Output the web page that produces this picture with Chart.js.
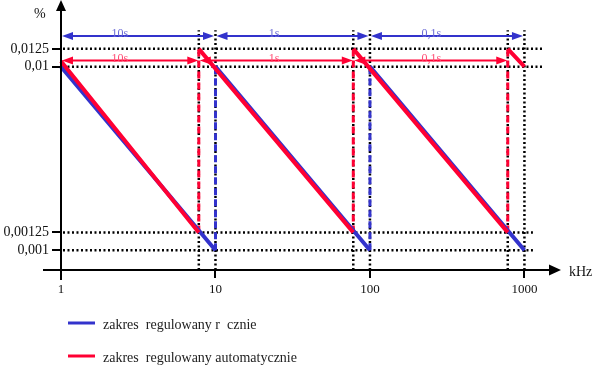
<!DOCTYPE html>
<html>
<head>
<meta charset="utf-8">
<script src="https://cdn.jsdelivr.net/npm/chart.js@4/dist/chart.umd.min.js"></script>
<style>
  body { margin: 0; background: #fff; }
  canvas { display: block; }
</style>
</head>
<body>
<canvas id="myChart" width="593" height="368"></canvas>
<script>
// axis ticks
const xTicks = [1, 10, 100, 1000];
const yTicks = [0.001, 0.00125, 0.01, 0.0125];

// manual range (blue): one line per decade
const manualFrom = [1, 10, 100];
const manualTo = [10, 100, 1000];
const manualTop = 0.01;
const manualBottom = 0.001;

// automatic range (red)
const autoFrom = [1, 7.8, 78, 780];
const autoTo = [7.8, 78, 780, 1000];
const autoFromY = [0.0107, 0.0125, 0.0125, 0.0125];
const autoToY = [0.00125, 0.00125, 0.00125, 0.01];

// vertical jumps
const manualJumpX = [10, 100];
const autoJumpX = [7.8, 78, 780];

// dotted guides
const guideX = [7.8, 10, 78, 100, 780, 1000];
const guideTop = 0.0158;
const levelsLong = [0.0125, 0.01];
const levelsLongEnd = 1320;
const levelsShort = [0.00125, 0.001];
const levelsShortEnd = 1135;

// time arrows
const timeLabels = ["10s", "1s", "0,1s"];
const timeLabelX = [2.4, 24, 250];
const manualArrowY = 0.0147;
const autoArrowY = 0.0108;

const manualLabel = "zakres  regulowany r  cznie";
const autoLabel = "zakres  regulowany automatycznie";

const BLUE = "#3333cc";
const RED = "#ff0033";
const SERIF = '"Liberation Serif", "DejaVu Serif", serif';

//Helper functions
const segments = (x1, y1, x2, y2) => {
  const pts = [];
  x1.forEach((x, i) => {
    if (i > 0) pts.push({ x: x, y: null });
    pts.push({ x: x, y: y1[i] });
    pts.push({ x: x2[i], y: y2[i] });
  });
  return pts;
};
const fill = (arr, v) => arr.map(() => v);

const drawArrow = (ctx, x1, x2, y, color) => {
  const len = 11;
  const half = 4;
  ctx.strokeStyle = color;
  ctx.fillStyle = color;
  ctx.lineWidth = 2;
  ctx.setLineDash([]);
  ctx.beginPath();
  ctx.moveTo(x1 + 4, y);
  ctx.lineTo(x2 - 4, y);
  ctx.stroke();
  ctx.beginPath();
  ctx.moveTo(x1, y);
  ctx.lineTo(x1 + len, y - half);
  ctx.lineTo(x1 + len, y + half);
  ctx.closePath();
  ctx.fill();
  ctx.beginPath();
  ctx.moveTo(x2, y);
  ctx.lineTo(x2 - len, y - half);
  ctx.lineTo(x2 - len, y + half);
  ctx.closePath();
  ctx.fill();
};

const extras = {
  id: "extras",
  afterDraw: (chart) => {
    const ctx = chart.ctx;
    const xs = chart.scales.x;
    const ys = chart.scales.y;
    const area = chart.chartArea;
    ctx.save();

    // axes with arrow heads
    ctx.strokeStyle = "#000";
    ctx.fillStyle = "#000";
    ctx.lineWidth = 2;
    ctx.beginPath();
    ctx.moveTo(area.left, area.bottom + 10);
    ctx.lineTo(area.left, 6);
    ctx.moveTo(area.left - 18, area.bottom);
    ctx.lineTo(area.right + 5, area.bottom);
    ctx.stroke();
    ctx.beginPath();
    ctx.moveTo(area.left, 0);
    ctx.lineTo(area.left - 5, 11);
    ctx.lineTo(area.left + 5, 11);
    ctx.closePath();
    ctx.fill();
    ctx.beginPath();
    ctx.moveTo(area.right + 14, area.bottom);
    ctx.lineTo(area.right + 2, area.bottom - 5.5);
    ctx.lineTo(area.right + 2, area.bottom + 5.5);
    ctx.closePath();
    ctx.fill();

    ctx.font = "14px " + SERIF;
    ctx.fillStyle = "#111";
    ctx.textAlign = "left";
    ctx.textBaseline = "middle";
    ctx.fillText("%", 34, 14);
    ctx.fillText("kHz", area.right + 22, area.bottom + 2);

    // time arrows
    const by = ys.getPixelForValue(manualArrowY);
    const ry = ys.getPixelForValue(autoArrowY);
    manualFrom.forEach((x, i) => {
      drawArrow(ctx, xs.getPixelForValue(x) + 1, xs.getPixelForValue(manualTo[i]) - 1.5, by, BLUE);
    });
    autoJumpX.forEach((x, i) => {
      const from = i === 0 ? 1 : autoJumpX[i - 1];
      drawArrow(ctx, xs.getPixelForValue(from) + 1, xs.getPixelForValue(x) - 0.5, ry, RED);
    });
    ctx.font = "12px " + SERIF;
    ctx.textAlign = "center";
    ctx.textBaseline = "alphabetic";
    timeLabels.forEach((t, i) => {
      const px = xs.getPixelForValue(timeLabelX[i]);
      ctx.fillStyle = "#6a6ad6";
      ctx.fillText(t, px, by + 1);
      ctx.fillStyle = "#ff4d74";
      ctx.fillText(t, px, ry + 1);
    });

    // legend
    const items = [
      { label: manualLabel, color: BLUE, y: 324 },
      { label: autoLabel, color: RED, y: 357 },
    ];
    ctx.font = "14px " + SERIF;
    ctx.textAlign = "left";
    ctx.textBaseline = "middle";
    items.forEach((it) => {
      ctx.strokeStyle = it.color;
      ctx.lineWidth = 3;
      ctx.beginPath();
      ctx.moveTo(68, it.y - 1);
      ctx.lineTo(95, it.y - 1);
      ctx.stroke();
      ctx.fillStyle = "#222";
      ctx.fillText(it.label, 103, it.y + 1.5);
    });
    ctx.restore();
  },
};

const dotted = (pts) => ({
  data: pts,
  borderColor: "#000",
  borderWidth: 2.5,
  borderDash: [2, 2.5],
  pointRadius: 0,
  clip: false,
});

const ctx1 = document.getElementById("myChart").getContext("2d");
const myChart = new Chart(ctx1, {
  type: "line",
  data: {
    datasets: [
      {
        label: autoLabel,
        data: segments(autoFrom, autoFromY, autoTo, autoToY),
        borderColor: RED,
        borderWidth: 4,
        pointRadius: 0,
        clip: false,
        order: 1,
      },
      {
        label: manualLabel,
        data: segments(manualFrom, fill(manualFrom, manualTop), manualTo, fill(manualTo, manualBottom)),
        borderColor: BLUE,
        borderWidth: 4,
        pointRadius: 0,
        clip: false,
        order: 2,
      },
      {
        data: segments(autoJumpX, fill(autoJumpX, 0.00125), autoJumpX, fill(autoJumpX, 0.0125)),
        borderColor: RED,
        borderWidth: 3,
        borderDash: [7, 4],
        pointRadius: 0,
        order: 3,
      },
      {
        data: segments(manualJumpX, fill(manualJumpX, manualBottom), manualJumpX, fill(manualJumpX, manualTop)),
        borderColor: BLUE,
        borderWidth: 3,
        borderDash: [7, 4],
        pointRadius: 0,
        order: 4,
      },
      { ...dotted(segments(guideX, fill(guideX, 0.00078), guideX, fill(guideX, guideTop))), order: 5 },
      { ...dotted(segments(fill(levelsLong, 1.03), levelsLong, fill(levelsLong, levelsLongEnd), levelsLong)), order: 6 },
      { ...dotted(segments(fill(levelsShort, 1.03), levelsShort, fill(levelsShort, levelsShortEnd), levelsShort)), order: 7 },
    ],
  },
  options: {
    responsive: false,
    animation: false,
    spanGaps: false,
    layout: {
      padding: { top: 8, right: 46, left: 0, bottom: 0 },
    },
    scales: {
      x: {
        type: "logarithmic",
        min: 1,
        max: 1400,
        afterBuildTicks: (s) => {
          s.ticks = xTicks.map((v) => ({ value: v }));
        },
        afterFit: (s) => {
          s.height = 98;
        },
        border: { display: false },
        grid: {
          drawOnChartArea: false,
          drawTicks: true,
          tickLength: 8,
          color: "#000",
          lineWidth: 2,
        },
        ticks: {
          autoSkip: false,
          maxRotation: 0,
          padding: 4,
          color: "#111",
          font: { family: SERIF, size: 13 },
          callback: (v) => String(v),
        },
      },
      y: {
        type: "logarithmic",
        min: 0.00078,
        max: 0.02,
        afterBuildTicks: (s) => {
          s.ticks = yTicks.map((v) => ({ value: v }));
        },
        afterFit: (s) => {
          s.width = 61;
        },
        border: { display: false },
        grid: {
          drawOnChartArea: false,
          drawTicks: true,
          tickLength: 9,
          color: "#000",
          lineWidth: 2,
        },
        ticks: {
          autoSkip: false,
          padding: 3,
          color: "#111",
          font: { family: SERIF, size: 14 },
          callback: (v) => String(v).replace(".", ","),
        },
      },
    },
    plugins: {
      legend: { display: false },
      tooltip: { enabled: false },
    },
  },
  plugins: [extras],
});
</script>
</body>
</html>
